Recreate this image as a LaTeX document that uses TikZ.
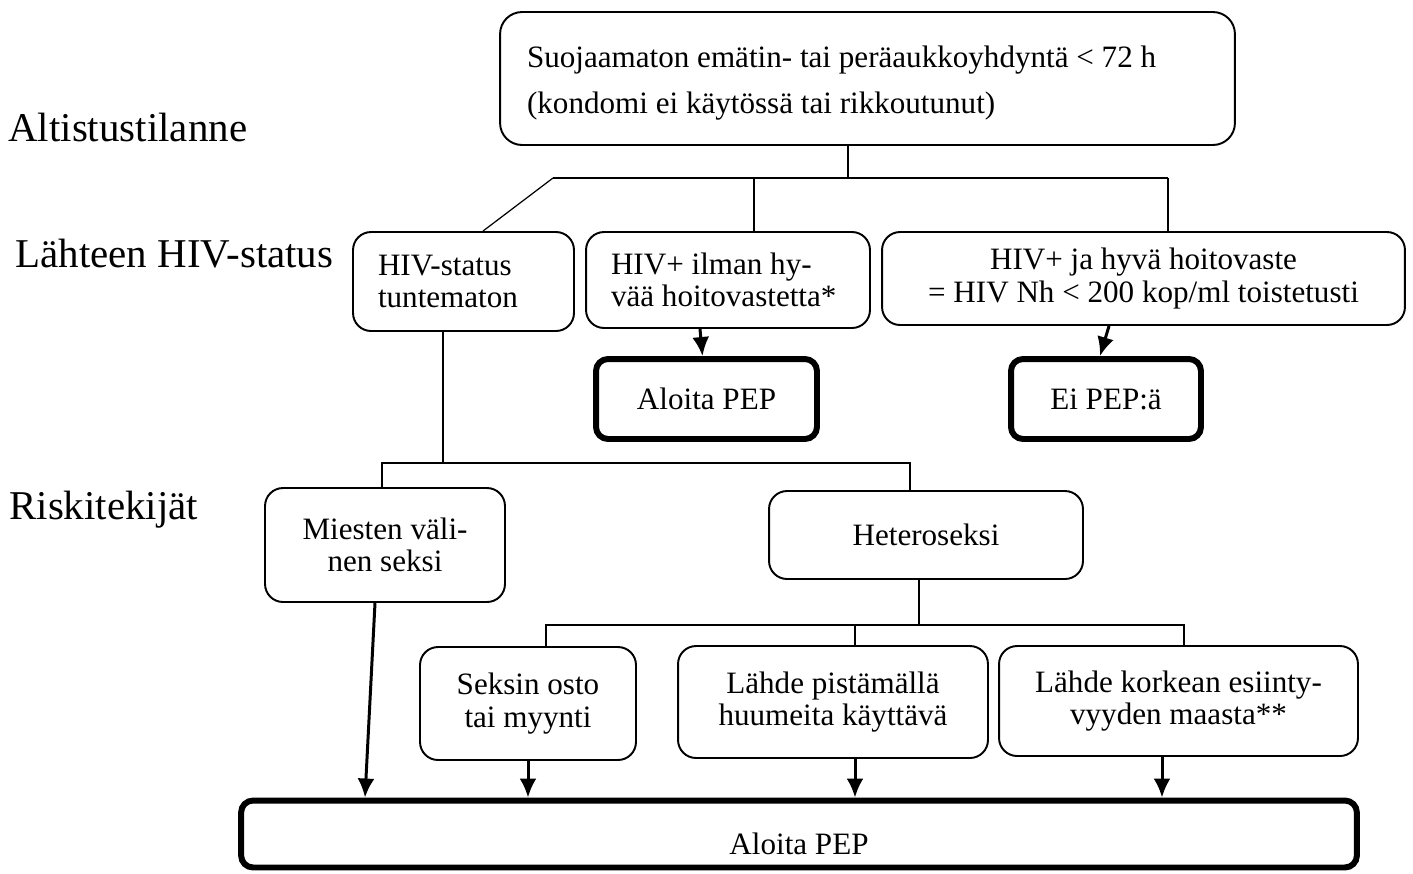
\documentclass[tikz,border=0pt]{standalone}
\usepackage{fontspec}
\setmainfont{Liberation Serif}
\usetikzlibrary{arrows.meta, positioning}

\begin{document}
\begin{tikzpicture}
    [>={Latex[length=0.38cm,width=0.34cm]}, x=0.02cm, y=-0.02cm, line/.style={draw=black, line width=1.7pt},
    border/.style={draw=black, line width=1.1pt}, font=\fontsize{17.7}{18.5}\selectfont]
    % Define styles for boxes, row labels and thin links
    \tikzstyle{block} = [draw, fill=white, rectangle, rounded corners=0.36cm, align=center, border]
    \tikzstyle{pepblock} = [block, rounded corners=0.24cm, line width=3.4pt]
    \tikzstyle{rowlabel} = [anchor=west, inner sep=0pt, font=\fontsize{23.3}{26}\selectfont]
    \tikzstyle{link} = [draw, line width=0.7pt]

    \useasboundingbox (0,0) rectangle (1413,873);

    % Row labels
    \node [rowlabel] (exposurelabel) at (8,127) {Altistustilanne};
    \node [rowlabel] (statuslabel) at (15,254) {Lähteen HIV-status};
    \node [rowlabel] (risklabel) at (9,510) {Riskitekijät};

    % Nodes placement
    \node [block, rounded corners=0.44cm, minimum width=14.7cm, minimum height=2.66cm, text width=13.62cm,
    align=flush left, font=\fontsize{17.7}{26}\selectfont, text height=0.62cm] (exposure) at (867.5,78.5)
    {Suojaamaton emätin- tai peräaukkoyhdyntä < 72 h\\(kondomi ei käytössä tai rikkoutunut)};
    \node [block, minimum width=4.42cm, minimum height=1.98cm, text width=3.42cm, align=flush left] (unknown)
    at (463.5,281.5) {HIV-status\\tuntematon};
    \node [block, minimum width=5.68cm, minimum height=1.92cm, text width=4.68cm, align=flush left] (positive)
    at (728,280) {HIV+ ilman hy-\\vää hoitovastetta*};
    \node [block, minimum width=10.46cm, minimum height=1.86cm] (treated) at (1143.5,278.5)
    {HIV+ ja hyvä hoitovaste\\= HIV Nh < 200 kop/ml toistetusti};
    \node [pepblock, minimum width=4.42cm, minimum height=1.6cm] (startpep) at (706.5,399) {Aloita PEP};
    \node [pepblock, minimum width=3.8cm, minimum height=1.6cm] (nopep) at (1106,399) {Ei PEP:ä};

    \node [block, minimum width=4.8cm, minimum height=2.28cm] (msm) at (385,545) {Miesten väli-\\nen seksi};
    \node [block, minimum width=6.28cm, minimum height=1.76cm] (hetero) at (926,535) {Heteroseksi};
    \node [block, minimum width=4.32cm, minimum height=2.26cm] (buying) at (528,703.5) {Seksin osto\\tai myynti};
    \node [block, minimum width=6.2cm, minimum height=2.24cm] (injecting) at (833,702)
    {Lähde pistämällä\\huumeita käyttävä};
    \node [block, minimum width=7.18cm, minimum height=2.2cm] (origin) at (1178.5,701)
    {Lähde korkean esiinty-\\vyyden maasta**};
    \node [pepblock, minimum width=22.32cm, minimum height=1.34cm, text height=0.8cm, text depth=0pt]
    (finalpep) at (799,834) {Aloita PEP};

    % Branch points
    \coordinate (fork1) at (848,178);
    \coordinate (bar1left) at (553,178);
    \coordinate (bar1mid) at (754,178);
    \coordinate (bar1right) at (1168,178);
    \coordinate (fork2) at (443,463);
    \coordinate (bar2left) at (382,463);
    \coordinate (bar2right) at (910,463);
    \coordinate (fork3) at (919,625);
    \coordinate (bar3left) at (546,625);
    \coordinate (bar3mid) at (855,625);
    \coordinate (bar3right) at (1184,625);
    \coordinate (tailB) at (700,329);
    \coordinate (tailC) at (1109,326);
    \coordinate (tipmsm) at (365,800);
    \coordinate (tiporigin) at (1162,800);

    % Draw thin links
    \draw[link] (fork1 |- exposure.south) -- (fork1);
    \draw[link] (bar1left) -- (bar1right);
    \draw[link] (bar1left) -- ([xshift=0.39cm]unknown.north);
    \draw[link] (bar1mid) -- (bar1mid |- positive.north);
    \draw[link] (bar1right) -- (bar1right |- treated.north);

    \draw[link] (fork2 |- unknown.south) -- (fork2);
    \draw[link] (bar2left |- msm.north) -- (bar2left) -- (bar2right) -- (bar2right |- hetero.north);

    \draw[link] (fork3 |- hetero.south) -- (fork3);
    \draw[link] (bar3left |- buying.north) -- (bar3left) -- (bar3right) -- (bar3right |- origin.north);
    \draw[link] (bar3mid) -- (bar3mid |- injecting.north);

    % Draw arrows
    \draw[line,->] (tailB) -- (startpep);
    \draw[line,->] (tailC) -- ([xshift=-0.12cm]nopep.north);
    \draw[line,->] ([xshift=-0.2cm]msm.south) -- (tipmsm |- finalpep.north);
    \draw[line,->] (buying) -- (buying |- finalpep.north);
    \draw[line,->] (bar3mid |- injecting.south) -- (bar3mid |- finalpep.north);
    \draw[line,->] (tiporigin |- origin.south) -- (tiporigin |- finalpep.north);
\end{tikzpicture}
\end{document}
